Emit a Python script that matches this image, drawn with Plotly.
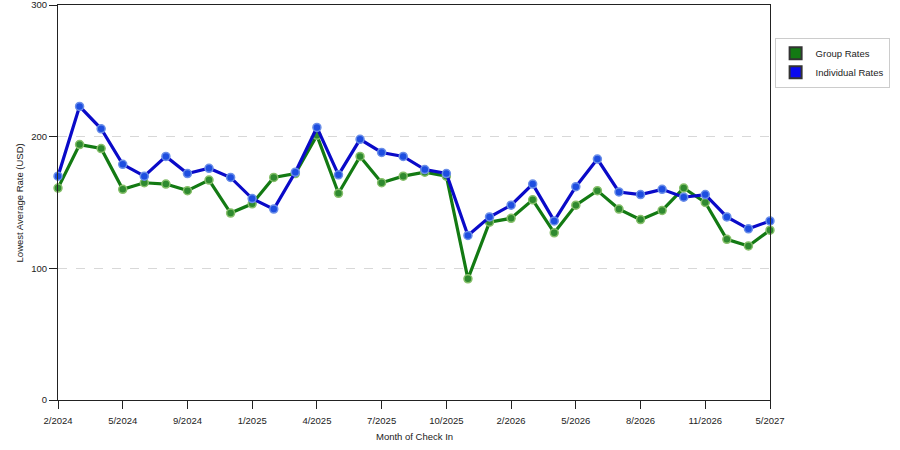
import plotly.graph_objects as go

# months of check in (category axis, not every month present)
months = ["2/2024", "3/2024", "4/2024", "5/2024", "6/2024", "7/2024", "9/2024", "10/2024",
          "11/2024", "1/2025", "2/2025", "3/2025", "4/2025", "5/2025", "6/2025", "7/2025",
          "8/2025", "9/2025", "10/2025", "11/2025", "12/2025", "2/2026", "3/2026", "4/2026",
          "5/2026", "6/2026", "7/2026", "8/2026", "9/2026", "10/2026", "11/2026", "12/2026",
          "2/2027", "5/2027"]

group_rates = [161, 194, 191, 160, 165, 164, 159, 167, 142, 149, 169, 172,
               201, 157, 185, 165, 170, 173, 170, 92, 135, 138, 152, 127,
               148, 159, 145, 137, 144, 161, 150, 122, 117, 129]

individual_rates = [170, 223, 206, 179, 170, 185, 172, 176, 169, 153, 145, 173,
                    207, 171, 198, 188, 185, 175, 172, 125, 139, 148, 164, 136,
                    162, 183, 158, 156, 160, 154, 156, 139, 130, 136]

tick_labels = months[::3]

font = "Liberation Sans, Arial, sans-serif"

fig = go.Figure()

# the real lines (no legend, the legend uses square swatches below)
fig.add_trace(go.Scatter(x=months, y=group_rates, mode="lines+markers", showlegend=False,
                         line=dict(color="#137a13", width=3.2),
                         marker=dict(size=8, color="#2f8a2f", line=dict(color="#86bf6a", width=1.5)),
                         cliponaxis=False))
fig.add_trace(go.Scatter(x=months, y=individual_rates, mode="lines+markers", showlegend=False,
                         line=dict(color="#0a0ac8", width=3.2),
                         marker=dict(size=8, color="#1e4ee0", line=dict(color="#6a8ee8", width=1.5)),
                         cliponaxis=False))

# legend swatches
fig.add_trace(go.Scatter(x=[None], y=[None], mode="markers", name="Group Rates",
                         marker=dict(symbol="square", size=13, color="#137a13",
                                     line=dict(color="#333", width=1))))
fig.add_trace(go.Scatter(x=[None], y=[None], mode="markers", name="Individual Rates",
                         marker=dict(symbol="square", size=13, color="#0a0af0",
                                     line=dict(color="#333", width=1))))

fig.update_layout(
    width=900, height=450,
    margin=dict(l=58, r=130, t=5, b=50),
    paper_bgcolor="white", plot_bgcolor="white",
    font=dict(family=font, size=9.5, color="#222"),
    legend=dict(x=1.168, y=0.917, xanchor="right", yanchor="top",
                bordercolor="#ccc", borderwidth=1, font=dict(size=9.5),
                itemsizing="constant", itemwidth=30, tracegroupgap=4),
    annotations=[
        dict(text="Lowest Average Rate (USD)", textangle=-90, xref="paper", yref="paper",
             x=-0.064, y=0.5, showarrow=False, font=dict(size=9.5)),
        dict(text="Month of Check In", xref="paper", yref="paper",
             x=0.5, y=-0.112, showarrow=False, font=dict(size=9.5)),
    ],
)

fig.update_xaxes(type="category", categoryorder="array", categoryarray=months,
                 tickmode="array", tickvals=tick_labels, ticktext=tick_labels,
                 range=[0, len(months) - 1], showgrid=False, zeroline=False,
                 showline=True, linecolor="#222", linewidth=1, mirror=True,
                 ticks="outside", ticklen=8, tickcolor="#222", automargin=False,
                 ticklabelstandoff=4, ticklabeloverflow="allow")

fig.update_yaxes(range=[0, 300], tickvals=[0, 100, 200, 300],
                 showgrid=True, gridcolor="#d8d8d8", griddash="dash", gridwidth=1,
                 zeroline=False, showline=True, linecolor="#222", linewidth=1, mirror=True,
                 ticks="outside", ticklen=8, tickcolor="#222", automargin=False,
                 ticklabeloverflow="allow")

# page body has a default 8px margin, drop it so the figure sits at the window corner
fig.write_html("out.html", config={"displayModeBar": False},
               post_script="document.body.style.margin='0';")
